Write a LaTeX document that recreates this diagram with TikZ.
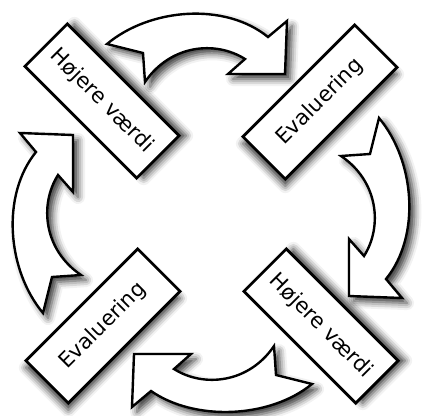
\documentclass[tikz,border=0pt]{standalone}
\usepackage{fontspec}
\setmainfont{DejaVu Sans}
\usetikzlibrary{shadows.blur}

\begin{document}
\begin{tikzpicture}[
  x=0.025cm, y=-0.025cm,
  stepbox/.style={rectangle, draw, line width=2pt, fill=white,
                  minimum width=3.95cm, minimum height=1.5cm,
                  font=\fontsize{15}{18}\selectfont, inner sep=2pt},
  hvbox/.style={stepbox, rotate=-45,
                blur shadow={shadow xshift=5pt, shadow yshift=0pt,
                             shadow blur radius=5pt, shadow opacity=80}},
  evbox/.style={stepbox, rotate=45,
                blur shadow={shadow xshift=0pt, shadow yshift=-5pt,
                             shadow blur radius=5pt, shadow opacity=80}},
  cycarrow/.style={draw, line width=1.7pt, fill=white, line join=miter,
                   blur shadow={shadow xshift=3.6pt, shadow yshift=-3.6pt,
                                shadow blur radius=5pt, shadow opacity=80}},
]
  \useasboundingbox (0,0) rectangle (426,415);

  % top arrow
  \path[cycarrow] (107,44) .. controls (150,8) and (225,2) .. (268,37)
    -- (287,21) -- (285,74) -- (228,74) -- (245,59)
    .. controls (215,40) and (170,45) .. (145,82) -- (143,53) -- cycle;
  % right arrow
  \path[cycarrow] (379,118) .. controls (415,161) and (421,236) .. (386,279)
    -- (402,298) -- (349,296) -- (349,239) -- (364,256)
    .. controls (383,226) and (378,181) .. (341,156) -- (370,154) -- cycle;
  % bottom arrow
  \path[cycarrow] (312,384) .. controls (269,419) and (194,421) .. (151,391)
    -- (132,407) -- (134,354) -- (191,354) -- (174,369)
    .. controls (204,388) and (249,383) .. (274,346) -- (276,375) -- cycle;
  % left arrow
  \path[cycarrow] (43,313) .. controls (7,270) and (1,195) .. (36,152)
    -- (20,133) -- (73,135) -- (73,192) -- (58,175)
    .. controls (39,205) and (44,250) .. (81,275) -- (52,277) -- cycle;

  \node[hvbox] (hv1) at (102,101) {Højere værdi};
  \node[evbox] (ev1) at (320,102) {Evaluering};
  \node[evbox] (ev2) at (103,326) {Evaluering};
  \node[hvbox] (hv2) at (321,326) {Højere værdi};
\end{tikzpicture}
\end{document}
